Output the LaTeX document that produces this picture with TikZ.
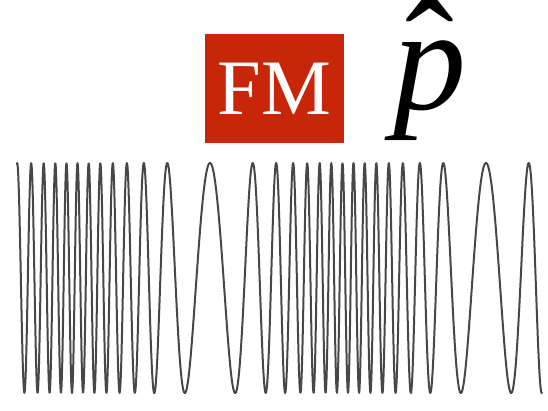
\documentclass[tikz,border=0pt]{standalone}
\usepackage{fontspec}
\setmainfont{Liberation Serif}
\definecolor{fmred}{RGB}{200,38,8}
\newcommand{\phatmark}{p\llap{\raisebox{8pt}{\upshape\char"02C6}\kern11.7pt}}
\begin{document}
\begin{tikzpicture}[x=1pt,y=1pt,
  fmbox/.style={fill=fmred,text=white,minimum width=139pt,minimum height=109pt,inner sep=0pt,font=\fontsize{78.5}{80}\selectfont},
  bigp/.style={inner sep=0pt,font=\fontsize{146}{150}\selectfont\itshape},
  wave/.style={draw=black!72,line width=2pt,line join=round,line cap=round}]
\useasboundingbox (0,0) rectangle (548,411);
\node[fmbox] (fm) at (274.5,322.5) {FM};
\node[bigp,anchor=base west] (p) at (393,301) {\phatmark};
\draw[wave] plot[domain=16.8:542,samples=1400,variable=\x] (\x,{133+115*cos(19.5652*(\x-72)+576*sin(1.304348*(\x-72))+180)});
\end{tikzpicture}
\end{document}
